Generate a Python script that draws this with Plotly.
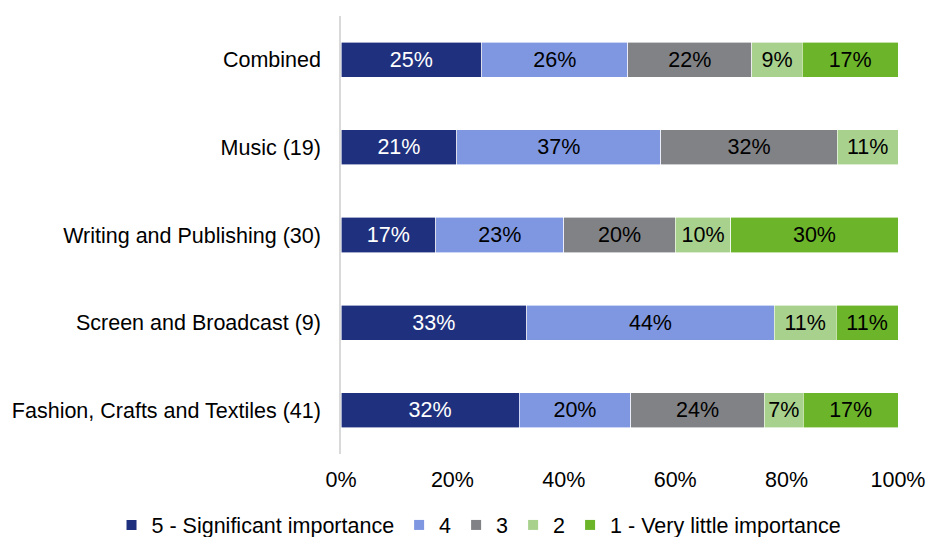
import plotly.graph_objects as go

# Survey groups (top to bottom as displayed)
categories = [
    "Combined",
    "Music (19)",
    "Writing and Publishing (30)",
    "Screen and Broadcast (9)",
    "Fashion, Crafts and Textiles (41)",
]

# Share of responses per rating (percent)
series_names = ["5 - Significant importance", "4", "3", "2", "1 - Very little importance"]
rating_5 = [25, 21, 17, 33, 32]
rating_4 = [26, 37, 23, 44, 20]
rating_3 = [22, 32, 20, 0, 24]
rating_2 = [9, 11, 10, 11, 7]
rating_1 = [17, 0, 30, 11, 17]

tick_values = [0, 20, 40, 60, 80, 100]
tick_labels = ["0%", "20%", "40%", "60%", "80%", "100%"]

colors = ["#1F317E", "#7F97E0", "#818285", "#A9D18E", "#6CB52B"]
text_colors = ["white", "black", "black", "black", "black"]

font_family = "Liberation Sans, Arial, sans-serif"
fsize = 21.5

fig = go.Figure()
for name, vals, col, tcol in zip(
    series_names, [rating_5, rating_4, rating_3, rating_2, rating_1], colors, text_colors
):
    fig.add_trace(
        go.Bar(
            name=name,
            y=categories,
            x=vals,
            orientation="h",
            marker=dict(color=col, line=dict(color="white", width=0.6)),
            text=[f"{v}%" if v > 0 else "" for v in vals],
            textposition="inside",
            insidetextanchor="middle",
            textangle=0,
            constraintext="none",
            textfont=dict(color=tcol, size=fsize, family=font_family),
            width=0.4,
            showlegend=False,
        )
    )

# Legend entries with small square swatches
for name, col in zip(series_names, colors):
    fig.add_trace(
        go.Scatter(
            name=name,
            x=[None],
            y=[None],
            mode="markers",
            marker=dict(symbol="square", size=10, color=col),
            showlegend=True,
        )
    )

fig.update_layout(
    barmode="stack",
    barnorm="percent",
    width=927,
    height=537,
    margin=dict(l=341, r=29, t=16, b=83, autoexpand=False),
    paper_bgcolor="white",
    plot_bgcolor="white",
    font=dict(family=font_family, size=fsize, color="black"),
    showlegend=True,
    legend=dict(
        orientation="h",
        x=-0.412,
        xanchor="left",
        y=-0.162,
        yanchor="middle",
        traceorder="normal",
        font=dict(size=fsize),
        itemwidth=30,
        bgcolor="rgba(0,0,0,0)",
    ),
)

fig.update_xaxes(
    range=[0, 100],
    tickvals=tick_values,
    ticktext=tick_labels,
    showgrid=False,
    zeroline=False,
    showline=False,
    ticks="",
    ticklabelstandoff=10,
    tickfont=dict(size=fsize),
)
fig.update_yaxes(
    categoryorder="array",
    categoryarray=categories[::-1],
    showgrid=False,
    showline=True,
    linecolor="#D9D9D9",
    linewidth=1.5,
    ticks="",
    ticklabelstandoff=14,
    tickfont=dict(size=fsize),
)

fig.write_html("out.html")
